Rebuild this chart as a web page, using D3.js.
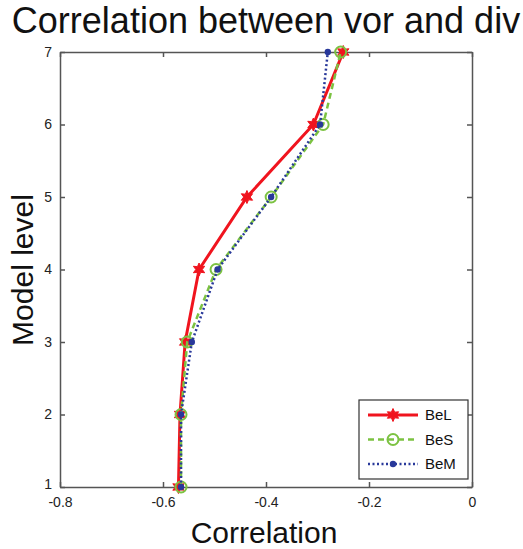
<!DOCTYPE html>
<html>
<head>
<meta charset="utf-8">
<script src="https://cdn.jsdelivr.net/npm/d3@7.9.0/dist/d3.min.js"></script>
<style>
  html, body { margin: 0; padding: 0; background: #fff; }
  svg { display: block; font-family: "Liberation Sans", Arial, sans-serif; }
</style>
</head>
<body>
<svg id="chart" width="523" height="549"></svg>
<script>
// model levels (y) and correlation per run (x)
const levels = [1, 2, 3, 4, 5, 6, 7];
const beL = [-0.570, -0.567, -0.557, -0.530, -0.437, -0.308, -0.250];
const beS = [-0.565, -0.565, -0.553, -0.497, -0.390, -0.289, -0.255];
const beM = [-0.565, -0.565, -0.544, -0.494, -0.390, -0.295, -0.280];
const xTicks = [-0.8, -0.6, -0.4, -0.2, 0];
const yTicks = [1, 2, 3, 4, 5, 6, 7];

const series = [
  { name: 'BeL', values: beL, color: '#f0141e', width: 3, dash: null, marker: 'star' },
  { name: 'BeS', values: beS, color: '#7cc242', width: 2.5, dash: '6,4', marker: 'circle' },
  { name: 'BeM', values: beM, color: '#28389a', width: 2.5, dash: '2,2.5', marker: 'dot' }
];

const svg = d3.select('#chart');
const margin = { left: 60, right: 472, top: 52, bottom: 487 };

const x = d3.scaleLinear().domain([-0.8, 0]).range([margin.left, margin.right]);
const y = d3.scaleLinear().domain([1, 7]).range([margin.bottom, margin.top]);

const axisColor = '#555';
// plain hyphen like MATLAB, not the unicode minus
const xFmt = d => d === 0 ? '0' : d.toFixed(1);
const yFmt = d => String(d);

const gx = svg.append('g')
  .attr('transform', `translate(0,${margin.bottom})`)
  .call(d3.axisBottom(x).tickValues(xTicks).tickFormat(xFmt).tickSizeInner(-5).tickSizeOuter(0).tickPadding(9));
const gxt = svg.append('g')
  .attr('transform', `translate(0,${margin.top})`)
  .call(d3.axisTop(x).tickValues(xTicks).tickFormat('').tickSizeInner(-5).tickSizeOuter(0));
const gy = svg.append('g')
  .attr('transform', `translate(${margin.left},0)`)
  .call(d3.axisLeft(y).tickValues(yTicks).tickFormat(yFmt).tickSizeInner(-5).tickSizeOuter(0).tickPadding(8));
const gyr = svg.append('g')
  .attr('transform', `translate(${margin.right},0)`)
  .call(d3.axisRight(y).tickValues(yTicks).tickFormat('').tickSizeInner(-5).tickSizeOuter(0));

[gx, gxt, gy, gyr].forEach(g => {
  g.attr('font-family', '"Liberation Sans", Arial, sans-serif').attr('font-size', 14);
  g.selectAll('path, line').attr('stroke', axisColor).attr('stroke-width', 1.5);
  g.selectAll('text').attr('fill', '#222');
});
gx.selectAll('.tick text').attr('dy', '0.75em');
// corner label "1" sits a bit higher, as in the reference
gy.selectAll('.tick text').filter(d => d === 1).attr('dy', '0.1em');

// title and axis labels
svg.append('text')
  .attr('x', 266).attr('y', 33)
  .attr('text-anchor', 'middle')
  .style('font-size', '36px').attr('fill', '#111')
  .text('Correlation between vor and div');

svg.append('text')
  .attr('x', 264).attr('y', 543)
  .attr('text-anchor', 'middle')
  .style('font-size', '30px').attr('fill', '#111')
  .text('Correlation');

svg.append('text')
  .attr('transform', 'translate(33,270) rotate(-90)')
  .attr('text-anchor', 'middle')
  .style('font-size', '30px').attr('fill', '#111')
  .text('Model level');

// 6-pointed star marker
function starPath(r) {
  const pts = [];
  for (let i = 0; i < 12; i++) {
    const a = Math.PI / 6 * i - Math.PI / 2;
    const rr = i % 2 === 0 ? r : r * 0.5;
    pts.push([Math.cos(a) * rr, Math.sin(a) * rr]);
  }
  return 'M' + pts.map(p => p.join(',')).join('L') + 'Z';
}

function drawMarker(g, s) {
  if (s.marker === 'star') {
    g.append('path').attr('d', starPath(6.5)).attr('fill', s.color).attr('stroke', s.color).attr('stroke-width', 1);
  } else if (s.marker === 'circle') {
    g.append('circle').attr('r', 5.5).attr('fill', 'none').attr('stroke', s.color).attr('stroke-width', 2);
  } else {
    g.append('circle').attr('r', 3.2).attr('fill', s.color);
  }
}

const line = d3.line().x(d => x(d.v)).y(d => y(d.level));

series.forEach(s => {
  const pts = levels.map((level, i) => ({ level, v: s.values[i] }));
  const g = svg.append('g');
  g.append('path')
    .datum(pts)
    .attr('d', line)
    .attr('fill', 'none')
    .attr('stroke', s.color)
    .attr('stroke-width', s.width)
    .attr('stroke-dasharray', s.dash);
  g.selectAll('g.m')
    .data(pts)
    .join('g')
    .attr('class', 'm')
    .attr('transform', d => `translate(${x(d.v)},${y(d.level)})`)
    .each(function () { drawMarker(d3.select(this), s); });
});

// legend
const lg = svg.append('g').attr('transform', 'translate(359,400)');
lg.append('rect')
  .attr('width', 109).attr('height', 79)
  .attr('fill', '#fff').attr('stroke', '#333').attr('stroke-width', 1.2);
series.forEach((s, i) => {
  const row = lg.append('g').attr('transform', `translate(0,${15 + i * 24.5})`);
  row.append('line')
    .attr('x1', 9).attr('x2', 59).attr('y1', 0).attr('y2', 0)
    .attr('stroke', s.color).attr('stroke-width', s.width)
    .attr('stroke-dasharray', s.dash);
  drawMarker(row.append('g').attr('transform', 'translate(34,0)'), s);
  row.append('text')
    .attr('x', 66).attr('y', 0).attr('dy', '0.35em')
    .style('font-size', '15px').attr('fill', '#111')
    .text(s.name);
});
</script>
</body>
</html>
